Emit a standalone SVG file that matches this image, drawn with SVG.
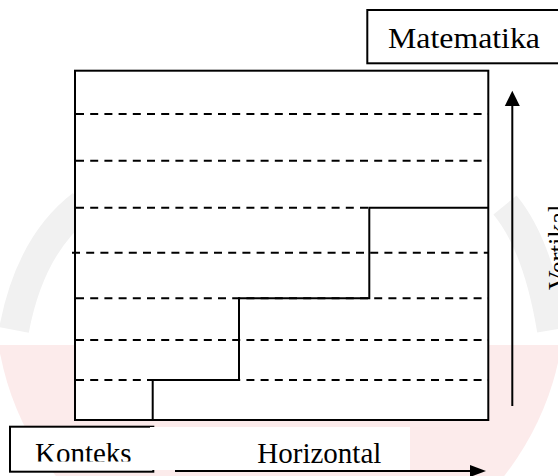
<svg xmlns="http://www.w3.org/2000/svg" width="558" height="476" viewBox="0 0 558 476">
  <style>
    .box { fill: #ffffff; stroke: #000000; stroke-width: 2; }
    .dash { stroke: #000000; stroke-width: 2; stroke-dasharray: 8 6.2; fill: none; }
    .solid { stroke: #000000; stroke-width: 2; fill: none; }
    text { font-family: 'Liberation Serif', 'Times New Roman', Times, serif; font-size: 29px; fill: #000000; }
    .wm-pink { fill: #fcebeb; }
    .wm-gray { fill: none; stroke: #f1f1f1; stroke-width: 30; }
  </style>
  <defs>
    <clipPath id="lowerClip"><rect x="0" y="345" width="558" height="131"/></clipPath>
    <clipPath id="kontClip"><rect x="10" y="426" width="144" height="35.5"/></clipPath>
  </defs>
  <rect x="0" y="0" width="558" height="476" fill="#ffffff"/>
  <g id="watermark">
    <circle class="wm-pink" cx="280" cy="300" r="285" clip-path="url(#lowerClip)"/>
    <path class="wm-gray" d="M 82 205 Q 30 245 14 330"/>
    <path class="wm-gray" d="M 505 205 Q 538 245 552 330"/>
  </g>
  <g id="grid">
    <rect class="box" x="75" y="70.7" width="413.3" height="349.3"/>
    <line class="dash" x1="76" y1="114" x2="488" y2="114"/>
    <line class="dash" x1="76" y1="160.7" x2="488" y2="160.7"/>
    <line class="dash" x1="76" y1="207.7" x2="370" y2="207.7"/>
    <line class="dash" x1="72" y1="252.7" x2="488" y2="252.7"/>
    <line class="dash" x1="76" y1="298.3" x2="488" y2="298.3"/>
    <line class="dash" x1="76" y1="340" x2="488" y2="340"/>
    <line class="dash" x1="76" y1="380" x2="488" y2="380"/>
  </g>
  <g id="matematika">
    <rect class="box" x="367.3" y="10" width="200" height="53.3"/>
    <text x="388" y="48" font-family="Liberation Serif, serif" textLength="152" lengthAdjust="spacingAndGlyphs">Matematika</text>
  </g>
  <g id="konteks">
    <rect class="box" x="10" y="426.7" width="143.3" height="45"/>
    <text x="35" y="462.5" font-family="Liberation Serif, serif" clip-path="url(#kontClip)">Konteks</text>
  </g>
  <g id="horizontal">
    <rect x="150" y="427" width="260" height="43" fill="#ffffff"/>
    <text x="257.3" y="462.7" font-family="Liberation Serif, serif">Horizontal</text>
  </g>
  <g id="vertikal">
    <text transform="translate(567,290) rotate(-90)" font-family="Liberation Serif, serif" style="font-size:27px">Vertikal</text>
  </g>
  <g id="connectors">
    <path class="solid" d="M152.7 420 V380 H239 V298.3 H369.3 V207.7 H488"/>
    <line class="solid" x1="175" y1="471" x2="472" y2="471" stroke-width="2.5"/>
    <polygon points="470,465 486,471 470,477" fill="#000000"/>
    <line class="solid" x1="512.3" y1="406" x2="512.3" y2="104" stroke-width="2.5"/>
    <polygon points="504.8,106 512.3,90.7 519.8,106" fill="#000000"/>
  </g>
</svg>
